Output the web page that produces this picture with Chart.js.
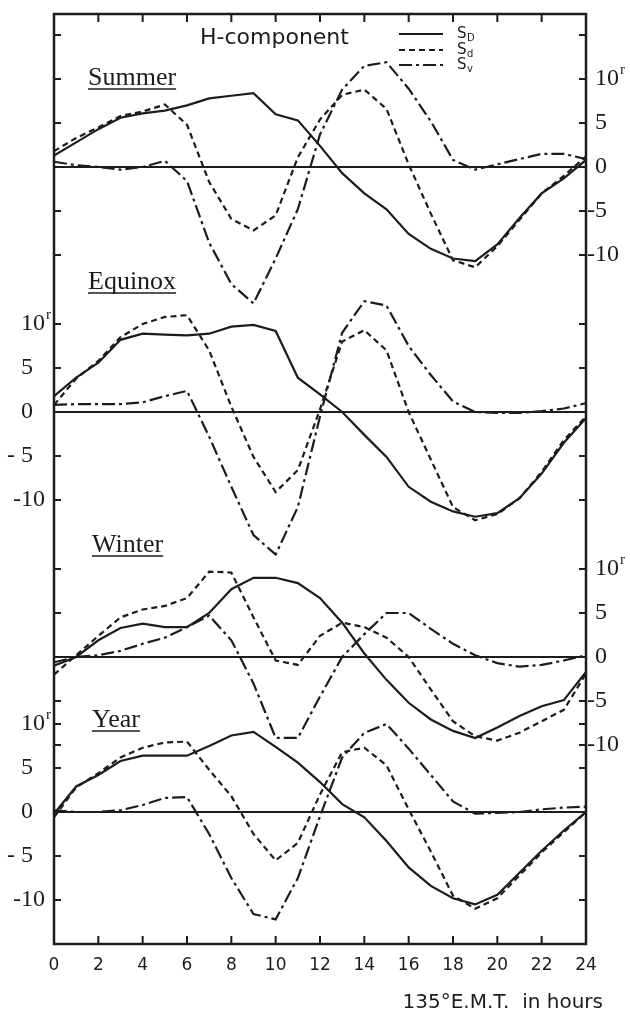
<!DOCTYPE html>
<html lang="en">

<head>
    <meta charset="UTF-8" />
    <meta name="viewport" content="width=device-width, initial-scale=1.0" />
    <title>H-component</title>
    <style>
        * {
            margin: 0;
            padding: 0;
        }

        body {
            background: #fff;
        }

        .chartBox {
            width: 630px;
            height: 1014px;
        }
    </style>
</head>

<body>
    <div class="chartBox">
        <canvas id="myChart"></canvas>
    </div>
    <script src="https://cdn.jsdelivr.net/npm/chart.js@4.4.0/dist/chart.umd.min.js"></script>
    <script>
        // hours, 135°E mean time
        const hours = [0, 1, 2, 3, 4, 5, 6, 7, 8, 9, 10, 11, 12, 13, 14, 15, 16, 17, 18, 19, 20, 21, 22, 23, 24];
        const hourTicks = [0, 2, 4, 6, 8, 10, 12, 14, 16, 18, 20, 22, 24];

        const panelNames = ["Summer", "Equinox", "Winter", "Year"];
        const labelTicks = [10, 5, 0, -5, -10];

        // values in gamma, read per hour
        const summerSD = [1.3, 2.8, 4.3, 5.6, 6.1, 6.4, 7.0, 7.8, 8.1, 8.4, 6.0, 5.3, 2.4, -0.7, -3.0, -4.8, -7.6, -9.3, -10.4, -10.7, -8.8, -5.8, -3.0, -1.3, 0.8];
        const summerSd = [1.8, 3.3, 4.5, 5.8, 6.3, 7.1, 4.8, -1.7, -5.9, -7.2, -5.5, 1.1, 5.4, 8.2, 8.8, 6.6, 0.3, -5.3, -10.6, -11.4, -9.0, -6.0, -3.0, -1.0, 1.2];
        const summerSv = [0.6, 0.2, 0.0, -0.3, 0.0, 0.7, -1.6, -8.6, -13.3, -15.5, -10.4, -4.8, 3.7, 8.8, 11.5, 11.9, 8.9, 5.2, 0.8, -0.3, 0.3, 0.9, 1.5, 1.5, 0.9];

        const equinoxSD = [1.8, 3.9, 5.6, 8.2, 8.9, 8.8, 8.7, 8.9, 9.7, 9.9, 9.2, 3.9, 2.0, 0.0, -2.6, -5.1, -8.5, -10.2, -11.3, -11.9, -11.5, -9.8, -7.0, -3.5, -0.7];
        const equinoxSd = [0.8, 3.8, 5.8, 8.5, 10.0, 10.8, 11.0, 7.0, 0.6, -5.1, -9.1, -6.6, 0.3, 8.0, 9.3, 7.0, 0.0, -5.4, -10.8, -12.3, -11.6, -9.8, -6.8, -3.2, -0.5];
        const equinoxSv = [0.8, 0.9, 0.9, 0.9, 1.1, 1.8, 2.4, -2.8, -8.5, -14.0, -16.2, -10.8, -0.5, 9.0, 12.6, 12.1, 7.5, 4.2, 1.2, 0.0, -0.1, -0.1, 0.1, 0.4, 1.0];

        const winterSD = [-1.0, 0.0, 1.9, 3.3, 3.8, 3.4, 3.4, 5.0, 7.7, 9.0, 9.0, 8.4, 6.7, 3.9, 0.4, -2.6, -5.2, -7.1, -8.4, -9.2, -8.0, -6.7, -5.6, -4.9, -1.7];
        const winterSd = [-2.0, 0.2, 2.4, 4.5, 5.4, 5.8, 6.7, 9.7, 9.6, 4.5, -0.4, -0.9, 2.4, 3.9, 3.4, 2.2, 0.0, -3.7, -7.3, -9.0, -9.5, -8.6, -7.3, -6.0, -1.9];
        const winterSv = [-0.6, 0.0, 0.2, 0.7, 1.5, 2.2, 3.4, 4.7, 1.9, -3.0, -9.2, -9.2, -4.5, 0.0, 2.6, 5.0, 5.0, 3.2, 1.5, 0.2, -0.7, -1.1, -0.9, -0.4, 0.2];

        const yearSD = [-0.2, 2.9, 4.2, 5.8, 6.4, 6.4, 6.4, 7.5, 8.7, 9.1, 7.4, 5.6, 3.4, 0.9, -0.6, -3.3, -6.3, -8.4, -9.8, -10.5, -9.4, -6.9, -4.4, -2.1, 0.0];
        const yearSd = [-0.6, 2.8, 4.4, 6.2, 7.3, 7.9, 8.0, 4.8, 1.8, -2.5, -5.5, -3.5, 2.0, 6.8, 7.3, 5.3, 0.3, -4.5, -9.5, -11.0, -9.8, -7.2, -4.6, -2.3, 0.0];
        const yearSv = [0.2, 0.0, 0.0, 0.2, 0.8, 1.6, 1.7, -2.5, -7.5, -11.6, -12.2, -7.5, -0.5, 6.2, 9.0, 10.0, 7.2, 4.2, 1.2, -0.2, -0.1, 0.0, 0.3, 0.5, 0.6];

        // layout of the single frame that holds the four offset panels
        const ink = "#1c1c1c";
        const frame = { left: 54, right: 586, top: 14, bottom: 944 };
        const pxPerGamma = 8.8;
        const panelZero = [167, 412, 657, 812];
        const panelSide = ["right", "left", "right", "left"];
        const panelTitleY = [85, 289, 552, 727];
        const panelTitleX = [88, 88, 92, 92];

        const seriesByPanel = [
            [summerSD, summerSd, summerSv],
            [equinoxSD, equinoxSd, equinoxSv],
            [winterSD, winterSd, winterSv],
            [yearSD, yearSd, yearSv],
        ];
        const seriesNames = ["SD", "Sd", "Sv"];
        const seriesDash = [[], [6, 4], [13, 4, 3, 4]];

        const datasets = [];
        const scales = {
            x: {
                type: "linear",
                min: 0,
                max: 24,
                grid: { display: false, drawTicks: false },
                border: { display: false },
                afterBuildTicks: (scale) => {
                    scale.ticks = hourTicks.map((v) => ({ value: v }));
                },
                afterFit: (scale) => {
                    scale.height = 1014 - frame.bottom;
                },
                ticks: {
                    padding: 11,
                    maxRotation: 0,
                    color: ink,
                    font: { family: "DejaVu Sans", size: 17 },
                },
            },
        };

        panelNames.forEach((name, p) => {
            const id = "y" + name;
            scales[id] = {
                type: "linear",
                display: false,
                min: -(frame.bottom - panelZero[p]) / pxPerGamma,
                max: (panelZero[p] - frame.top) / pxPerGamma,
            };
            seriesByPanel[p].forEach((vals, s) => {
                datasets.push({
                    label: name + " " + seriesNames[s],
                    data: hours.map((h, i) => ({ x: h, y: vals[i] })),
                    yAxisID: id,
                    borderColor: ink,
                    borderWidth: 2.2,
                    borderDash: seriesDash[s],
                    pointRadius: 0,
                    tension: 0,
                    fill: false,
                });
            });
        });

        function drawValueLabel(ctx, v, y, side) {
            const digits = String(Math.abs(v));
            ctx.font = "24px 'Liberation Serif'";
            ctx.textBaseline = "middle";
            const digitX = side === "left" ? 21 : 595;
            ctx.textAlign = "left";
            ctx.fillText(digits, digitX, y);
            if (v < 0) {
                ctx.textAlign = "right";
                ctx.fillText(side === "left" && Math.abs(v) < 10 ? "- " : "-", digitX, y);
            }
            if (v === 10) {
                const w = ctx.measureText(digits).width;
                ctx.font = "15px 'Liberation Serif'";
                ctx.textAlign = "left";
                ctx.fillText("r", digitX + w + 1, y - 9);
            }
        }

        const paperPlugin = {
            id: "paper",
            beforeDatasetsDraw(chart) {
                const { ctx, chartArea: a } = chart;
                ctx.save();
                ctx.strokeStyle = ink;
                ctx.lineWidth = 1.8;
                panelNames.forEach((name) => {
                    const y = chart.scales["y" + name].getPixelForValue(0);
                    ctx.beginPath();
                    ctx.moveTo(a.left, y);
                    ctx.lineTo(a.right, y);
                    ctx.stroke();
                });
                ctx.restore();
            },
            afterDraw(chart) {
                const { ctx, chartArea: a } = chart;
                const xs = chart.scales.x;
                ctx.save();
                ctx.strokeStyle = ink;
                ctx.fillStyle = ink;

                // frame
                ctx.lineWidth = 2.5;
                ctx.strokeRect(a.left, a.top, a.right - a.left, a.bottom - a.top);

                // inward ticks along top and bottom
                ctx.lineWidth = 2;
                hourTicks.forEach((h) => {
                    if (h === 0 || h === 24) return;
                    const x = xs.getPixelForValue(h);
                    ctx.beginPath();
                    ctx.moveTo(x, a.top);
                    ctx.lineTo(x, a.top + 8);
                    ctx.moveTo(x, a.bottom);
                    ctx.lineTo(x, a.bottom - 8);
                    ctx.stroke();
                });

                // inward ticks on both sides, labels on one side per panel
                panelNames.forEach((name, p) => {
                    const ys = chart.scales["y" + name];
                    const vals = p === 0 ? [15].concat(labelTicks) : labelTicks;
                    vals.forEach((v) => {
                        const y = ys.getPixelForValue(v);
                        ctx.beginPath();
                        ctx.moveTo(a.left, y);
                        ctx.lineTo(a.left + 7, y);
                        ctx.moveTo(a.right, y);
                        ctx.lineTo(a.right - 7, y);
                        ctx.stroke();
                    });
                    labelTicks.forEach((v) => {
                        drawValueLabel(ctx, v, ys.getPixelForValue(v), panelSide[p]);
                    });

                    // underlined panel titles
                    ctx.font = "26px 'Liberation Serif'";
                    ctx.textAlign = "left";
                    ctx.textBaseline = "alphabetic";
                    ctx.fillText(name, panelTitleX[p], panelTitleY[p]);
                    const w = ctx.measureText(name).width;
                    ctx.lineWidth = 1.6;
                    ctx.beginPath();
                    ctx.moveTo(panelTitleX[p], panelTitleY[p] + 4);
                    ctx.lineTo(panelTitleX[p] + w, panelTitleY[p] + 4);
                    ctx.stroke();
                    ctx.lineWidth = 2;
                });

                // heading and key
                ctx.font = "22px 'DejaVu Sans'";
                ctx.textBaseline = "middle";
                ctx.textAlign = "left";
                ctx.fillText("H-component", 200, 38);

                const keyY = [34, 50, 65];
                const subs = ["D", "d", "v"];
                keyY.forEach((y, s) => {
                    ctx.setLineDash(seriesDash[s]);
                    ctx.lineWidth = 2;
                    ctx.beginPath();
                    ctx.moveTo(399, y);
                    ctx.lineTo(443, y);
                    ctx.stroke();
                    ctx.setLineDash([]);
                    ctx.font = "15px 'DejaVu Sans'";
                    ctx.fillText("S", 457, y);
                    ctx.font = "10px 'DejaVu Sans'";
                    ctx.fillText(subs[s], 467, y + 4);
                });

                // x axis title
                ctx.font = "20px 'DejaVu Sans'";
                ctx.textAlign = "right";
                ctx.fillText("135°E.M.T.  in hours", 603, 1003);
                ctx.restore();
            },
        };

        const config = {
            type: "line",
            data: { datasets: datasets },
            options: {
                responsive: true,
                maintainAspectRatio: false,
                animation: false,
                layout: {
                    padding: { left: frame.left, right: 630 - frame.right, top: frame.top, bottom: 0 },
                },
                scales: scales,
                plugins: {
                    legend: { display: false },
                    tooltip: { enabled: false },
                },
            },
            plugins: [paperPlugin],
        };

        const ctx = document.getElementById("myChart").getContext("2d");
        const myChart = new Chart(ctx, config);
    </script>
</body>

</html>
